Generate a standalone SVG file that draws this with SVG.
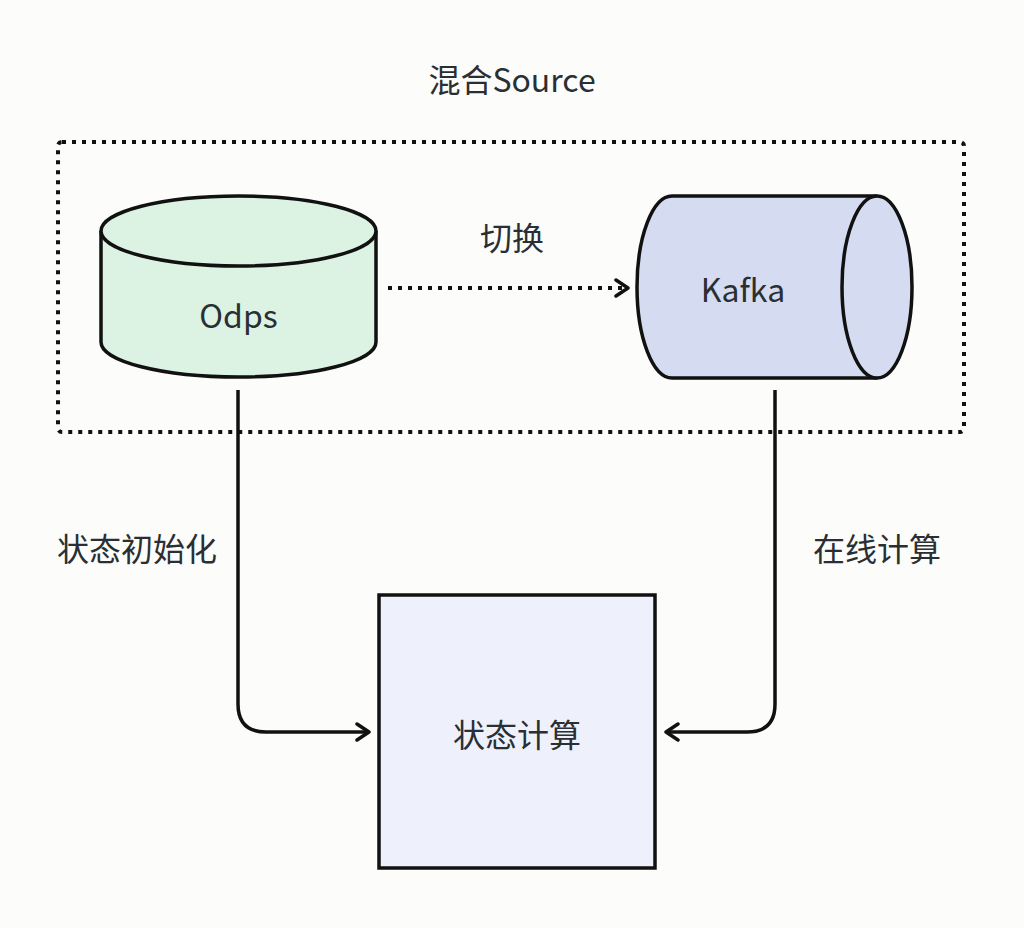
<svg xmlns="http://www.w3.org/2000/svg" width="1024" height="928" viewBox="0 0 1024 928">
<defs>
<style>
.t{font-family:"Noto Sans CJK SC","Noto Sans",sans-serif;font-size:32px;fill:#2a2f33;text-anchor:middle;dominant-baseline:central}
.s{stroke:#111;stroke-width:3.5;fill:none}
.dot{stroke:#111;stroke-width:4;fill:none;stroke-dasharray:4 6}
</style>
<marker id="ah" viewBox="0 0 20 20" refX="16" refY="10" markerWidth="20" markerHeight="20" markerUnits="userSpaceOnUse" orient="auto">
<path d="M4,2 L16,10 L4,18" fill="none" stroke="#111" stroke-width="3.5" stroke-linecap="round" stroke-linejoin="round"/>
</marker>
</defs>
<rect width="1024" height="928" fill="#fcfcfa"/>
<g id="group-source">
<rect x="58" y="142" width="906" height="290" rx="4" class="dot"/>
<text class="t" x="512" y="78">混合Source</text>
</g>
<g id="node-odps">
<path d="M101,231 L101,342 A137.5,35 0 0 0 376,342 L376,231" fill="#dcf3e3" stroke="#111" stroke-width="3.5"/>
<ellipse cx="238.5" cy="231" rx="137.5" ry="35" fill="#dcf3e3" stroke="#111" stroke-width="3.5"/>
<text class="t" x="238.5" y="314">Odps</text>
</g>
<g id="node-kafka">
<path d="M877,196 L672,196 A35,91 0 0 0 672,378 L877,378" fill="#d5dbf0" stroke="#111" stroke-width="3.5"/>
<ellipse cx="877" cy="287" rx="35" ry="91" fill="#d5dbf0" stroke="#111" stroke-width="3.5"/>
<text class="t" x="743" y="288">Kafka</text>
</g>
<g id="node-state">
<rect x="379" y="595" width="276" height="273" fill="#eef1fb" stroke="#111" stroke-width="3.5"/>
<text class="t" x="517" y="733">状态计算</text>
</g>
<g id="connectors">
<path d="M388,288 L628,288" class="dot" marker-end="url(#ah)"/>
<path d="M238,390 L238,704 Q238,732 266,732 L369,732" class="s" marker-end="url(#ah)"/>
<path d="M775,390 L775,704 Q775,732 747,732 L666,732" class="s" marker-end="url(#ah)"/>
<text class="t" x="512" y="236">切换</text>
<text class="t" x="137" y="547">状态初始化</text>
<text class="t" x="877" y="547">在线计算</text>
</g>
</svg>
